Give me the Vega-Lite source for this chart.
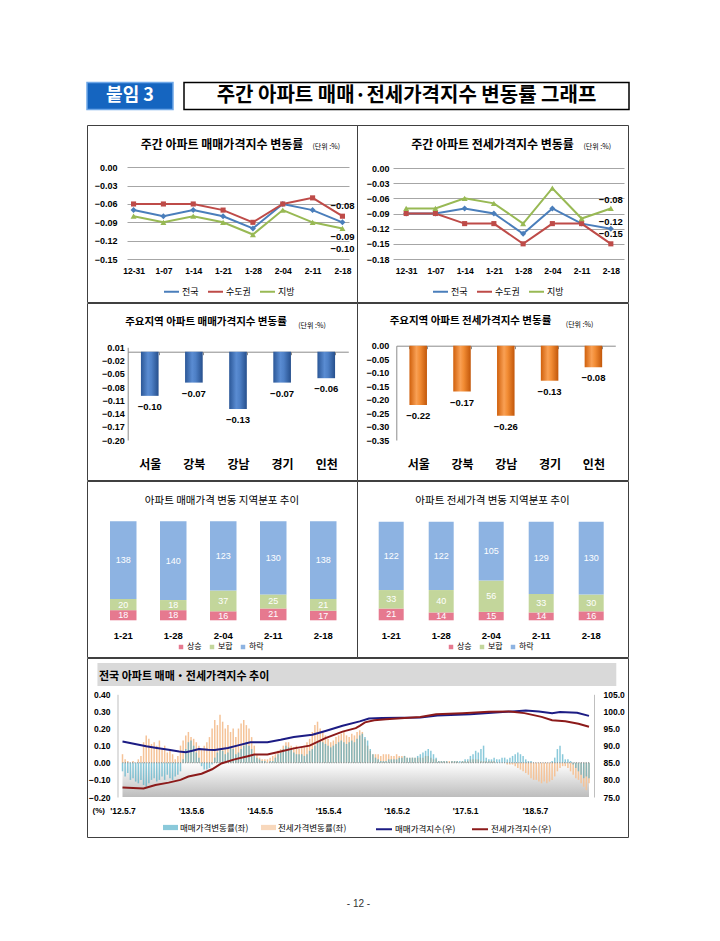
{
"$schema": "https://vega.github.io/schema/vega-lite/v6.json",
"background": "white",
"padding": {"left": 86, "top": 81.5, "right": 0, "bottom": 0},
"spacing": 13.5,
"resolve": {"scale": {"color": "independent", "shape": "independent", "fill": "independent", "stroke": "independent"}},
"datasets": {
"tl": [
{"d":"12-31","r":"전국","v":-0.07},{"d":"1-07","r":"전국","v":-0.08},{"d":"1-14","r":"전국","v":-0.07},{"d":"1-21","r":"전국","v":-0.08},{"d":"1-28","r":"전국","v":-0.10},{"d":"2-04","r":"전국","v":-0.06},{"d":"2-11","r":"전국","v":-0.07},{"d":"2-18","r":"전국","v":-0.09},
{"d":"12-31","r":"수도권","v":-0.06},{"d":"1-07","r":"수도권","v":-0.06},{"d":"1-14","r":"수도권","v":-0.06},{"d":"1-21","r":"수도권","v":-0.07},{"d":"1-28","r":"수도권","v":-0.09},{"d":"2-04","r":"수도권","v":-0.06},{"d":"2-11","r":"수도권","v":-0.05},{"d":"2-18","r":"수도권","v":-0.08},
{"d":"12-31","r":"지방","v":-0.08},{"d":"1-07","r":"지방","v":-0.09},{"d":"1-14","r":"지방","v":-0.08},{"d":"1-21","r":"지방","v":-0.09},{"d":"1-28","r":"지방","v":-0.11},{"d":"2-04","r":"지방","v":-0.07},{"d":"2-11","r":"지방","v":-0.09},{"d":"2-18","r":"지방","v":-0.10}
],
"tr": [
{"d":"12-31","r":"전국","v":-0.09},{"d":"1-07","r":"전국","v":-0.09},{"d":"1-14","r":"전국","v":-0.08},{"d":"1-21","r":"전국","v":-0.09},{"d":"1-28","r":"전국","v":-0.13},{"d":"2-04","r":"전국","v":-0.08},{"d":"2-11","r":"전국","v":-0.11},{"d":"2-18","r":"전국","v":-0.12},
{"d":"12-31","r":"수도권","v":-0.09},{"d":"1-07","r":"수도권","v":-0.09},{"d":"1-14","r":"수도권","v":-0.11},{"d":"1-21","r":"수도권","v":-0.11},{"d":"1-28","r":"수도권","v":-0.15},{"d":"2-04","r":"수도권","v":-0.11},{"d":"2-11","r":"수도권","v":-0.11},{"d":"2-18","r":"수도권","v":-0.15},
{"d":"12-31","r":"지방","v":-0.08},{"d":"1-07","r":"지방","v":-0.08},{"d":"1-14","r":"지방","v":-0.06},{"d":"1-21","r":"지방","v":-0.07},{"d":"1-28","r":"지방","v":-0.11},{"d":"2-04","r":"지방","v":-0.04},{"d":"2-11","r":"지방","v":-0.10},{"d":"2-18","r":"지방","v":-0.08}
],
"ml": [{"g":"서울","v":-0.10},{"g":"강북","v":-0.07},{"g":"강남","v":-0.13},{"g":"경기","v":-0.07},{"g":"인천","v":-0.06}],
"mr": [{"g":"서울","v":-0.22},{"g":"강북","v":-0.17},{"g":"강남","v":-0.26},{"g":"경기","v":-0.13},{"g":"인천","v":-0.08}],
"sl": [
{"w":"1-21","t":"상승","k":1,"n":18},{"w":"1-21","t":"보합","k":2,"n":20},{"w":"1-21","t":"하락","k":3,"n":138},
{"w":"1-28","t":"상승","k":1,"n":18},{"w":"1-28","t":"보합","k":2,"n":18},{"w":"1-28","t":"하락","k":3,"n":140},
{"w":"2-04","t":"상승","k":1,"n":16},{"w":"2-04","t":"보합","k":2,"n":37},{"w":"2-04","t":"하락","k":3,"n":123},
{"w":"2-11","t":"상승","k":1,"n":21},{"w":"2-11","t":"보합","k":2,"n":25},{"w":"2-11","t":"하락","k":3,"n":130},
{"w":"2-18","t":"상승","k":1,"n":17},{"w":"2-18","t":"보합","k":2,"n":21},{"w":"2-18","t":"하락","k":3,"n":138}
],
"sr": [
{"w":"1-21","t":"상승","k":1,"n":21},{"w":"1-21","t":"보합","k":2,"n":33},{"w":"1-21","t":"하락","k":3,"n":122},
{"w":"1-28","t":"상승","k":1,"n":14},{"w":"1-28","t":"보합","k":2,"n":40},{"w":"1-28","t":"하락","k":3,"n":122},
{"w":"2-04","t":"상승","k":1,"n":15},{"w":"2-04","t":"보합","k":2,"n":56},{"w":"2-04","t":"하락","k":3,"n":105},
{"w":"2-11","t":"상승","k":1,"n":14},{"w":"2-11","t":"보합","k":2,"n":33},{"w":"2-11","t":"하락","k":3,"n":129},
{"w":"2-18","t":"상승","k":1,"n":16},{"w":"2-18","t":"보합","k":2,"n":30},{"w":"2-18","t":"하락","k":3,"n":130}
],
"wk": [
{"d":"2012-05-07","s":-0.05,"j":0.05},{"d":"2012-05-21","s":-0.08,"j":0.02},{"d":"2012-06-04","s":-0.06,"j":0.01},{"d":"2012-06-18","s":-0.1,"j":0},{"d":"2012-07-02","s":-0.09,"j":0.01},{"d":"2012-07-16","s":-0.11,"j":0},{"d":"2012-07-30","s":-0.12,"j":0.02},{"d":"2012-08-13","s":-0.1,"j":0.04},{"d":"2012-08-27","s":-0.13,"j":0.12},{"d":"2012-09-10","s":-0.14,"j":0.16},{"d":"2012-09-24","s":-0.12,"j":0.14},{"d":"2012-10-08","s":-0.1,"j":0.11},{"d":"2012-10-22","s":-0.09,"j":0.12},{"d":"2012-11-05","s":-0.11,"j":0.1},{"d":"2012-11-19","s":-0.1,"j":0.13},{"d":"2012-12-03","s":-0.08,"j":0.08},{"d":"2012-12-17","s":-0.1,"j":0.1},{"d":"2012-12-31","s":-0.07,"j":0.06},
{"d":"2013-01-14","s":-0.09,"j":0.08},{"d":"2013-01-28","s":-0.1,"j":0.05},{"d":"2013-02-11","s":-0.08,"j":0.02},{"d":"2013-02-25","s":-0.07,"j":0.04},{"d":"2013-03-11","s":-0.05,"j":0.1},{"d":"2013-03-25","s":0.02,"j":0.13},{"d":"2013-04-08","s":0.08,"j":0.16},{"d":"2013-04-22","s":0.12,"j":0.18},{"d":"2013-05-06","s":0.13,"j":0.15},{"d":"2013-05-20","s":0.1,"j":0.14},{"d":"2013-06-03","s":0.06,"j":0.12},{"d":"2013-06-17","s":0.03,"j":0.1},{"d":"2013-07-01","s":-0.02,"j":0.08},{"d":"2013-07-15","s":-0.04,"j":0.1},{"d":"2013-07-29","s":-0.04,"j":0.12},{"d":"2013-08-12","s":-0.03,"j":0.15},{"d":"2013-08-26","s":-0.01,"j":0.2},{"d":"2013-09-09","s":0.03,"j":0.25},{"d":"2013-09-23","s":0.06,"j":0.22},{"d":"2013-10-07","s":0.08,"j":0.28},{"d":"2013-10-21","s":0.07,"j":0.24},{"d":"2013-11-04","s":0.05,"j":0.2},{"d":"2013-11-18","s":0.06,"j":0.22},{"d":"2013-12-02","s":0.09,"j":0.18},{"d":"2013-12-16","s":0.08,"j":0.2},{"d":"2013-12-30","s":0.05,"j":0.15},
{"d":"2014-01-13","s":0.06,"j":0.2},{"d":"2014-01-27","s":0.08,"j":0.23},{"d":"2014-02-10","s":0.1,"j":0.25},{"d":"2014-02-24","s":0.12,"j":0.22},{"d":"2014-03-10","s":0.1,"j":0.2},{"d":"2014-03-24","s":0.08,"j":0.15},{"d":"2014-04-07","s":0.05,"j":0.1},{"d":"2014-04-21","s":0.03,"j":0.05},{"d":"2014-05-05","s":0.02,"j":0.03},{"d":"2014-05-19","s":0.01,"j":0.02},{"d":"2014-06-02","s":0.01,"j":0.02},{"d":"2014-06-16","s":0,"j":0.02},{"d":"2014-06-30","s":0.01,"j":0.03},{"d":"2014-07-14","s":0.01,"j":0.04},{"d":"2014-07-28","s":0.03,"j":0.05},{"d":"2014-08-11","s":0.05,"j":0.07},{"d":"2014-08-25","s":0.06,"j":0.08},{"d":"2014-09-08","s":0.08,"j":0.1},{"d":"2014-09-22","s":0.1,"j":0.12},{"d":"2014-10-06","s":0.09,"j":0.12},{"d":"2014-10-20","s":0.08,"j":0.1},{"d":"2014-11-03","s":0.06,"j":0.09},{"d":"2014-11-17","s":0.05,"j":0.1},{"d":"2014-12-01","s":0.05,"j":0.08},{"d":"2014-12-15","s":0.05,"j":0.09},{"d":"2014-12-29","s":0.04,"j":0.1},
{"d":"2015-01-12","s":0.05,"j":0.12},{"d":"2015-01-26","s":0.07,"j":0.14},{"d":"2015-02-09","s":0.08,"j":0.18},{"d":"2015-02-23","s":0.1,"j":0.22},{"d":"2015-03-09","s":0.12,"j":0.24},{"d":"2015-03-23","s":0.13,"j":0.2},{"d":"2015-04-06","s":0.12,"j":0.18},{"d":"2015-04-20","s":0.11,"j":0.16},{"d":"2015-05-04","s":0.1,"j":0.14},{"d":"2015-05-18","s":0.09,"j":0.12},{"d":"2015-06-01","s":0.1,"j":0.13},{"d":"2015-06-15","s":0.11,"j":0.15},{"d":"2015-06-29","s":0.12,"j":0.16},{"d":"2015-07-13","s":0.13,"j":0.17},{"d":"2015-07-27","s":0.12,"j":0.18},{"d":"2015-08-10","s":0.11,"j":0.16},{"d":"2015-08-24","s":0.12,"j":0.15},{"d":"2015-09-07","s":0.13,"j":0.17},{"d":"2015-09-21","s":0.12,"j":0.16},{"d":"2015-10-05","s":0.14,"j":0.18},{"d":"2015-10-19","s":0.16,"j":0.19},{"d":"2015-11-02","s":0.17,"j":0.18},{"d":"2015-11-16","s":0.15,"j":0.14},{"d":"2015-11-30","s":0.13,"j":0.1},{"d":"2015-12-14","s":0.08,"j":0.07},{"d":"2015-12-28","s":0.05,"j":0.05},
{"d":"2016-01-11","s":0.03,"j":0.05},{"d":"2016-01-25","s":0.02,"j":0.05},{"d":"2016-02-08","s":0.01,"j":0.04},{"d":"2016-02-22","s":0.01,"j":0.05},{"d":"2016-03-07","s":0.01,"j":0.05},{"d":"2016-03-21","s":0.02,"j":0.05},{"d":"2016-04-04","s":0.02,"j":0.04},{"d":"2016-04-18","s":0.02,"j":0.04},{"d":"2016-05-02","s":0.02,"j":0.05},{"d":"2016-05-16","s":0.03,"j":0.04},{"d":"2016-05-30","s":0.03,"j":0.04},{"d":"2016-06-13","s":0.04,"j":0.04},{"d":"2016-06-27","s":0.03,"j":0.03},{"d":"2016-07-11","s":0.03,"j":0.03},{"d":"2016-07-25","s":0.03,"j":0.03},{"d":"2016-08-08","s":0.03,"j":0.03},{"d":"2016-08-22","s":0.04,"j":0.03},{"d":"2016-09-05","s":0.05,"j":0.03},{"d":"2016-09-19","s":0.06,"j":0.03},{"d":"2016-10-03","s":0.07,"j":0.04},{"d":"2016-10-17","s":0.08,"j":0.04},{"d":"2016-10-31","s":0.07,"j":0.03},{"d":"2016-11-14","s":0.05,"j":0.02},{"d":"2016-11-28","s":0.03,"j":0.02},{"d":"2016-12-12","s":0.01,"j":0.01},{"d":"2016-12-26","s":0.01,"j":0.01},
{"d":"2017-01-09","s":0.01,"j":0.01},{"d":"2017-01-23","s":0.01,"j":0.01},{"d":"2017-02-06","s":0,"j":0.01},{"d":"2017-02-20","s":0.01,"j":0.01},{"d":"2017-03-06","s":0.01,"j":0.01},{"d":"2017-03-20","s":0.01,"j":0.01},{"d":"2017-04-03","s":0.01,"j":0},{"d":"2017-04-17","s":0.01,"j":0.01},{"d":"2017-05-01","s":0.02,"j":0.01},{"d":"2017-05-15","s":0.02,"j":0.01},{"d":"2017-05-29","s":0.04,"j":0.02},{"d":"2017-06-12","s":0.05,"j":0.02},{"d":"2017-06-26","s":0.07,"j":0.02},{"d":"2017-07-10","s":0.06,"j":0.02},{"d":"2017-07-24","s":0.08,"j":0.01},{"d":"2017-08-07","s":0.1,"j":0.01},{"d":"2017-08-21","s":0.03,"j":0.01},{"d":"2017-09-04","s":0.02,"j":0.01},{"d":"2017-09-18","s":0.02,"j":0.01},{"d":"2017-10-02","s":0.03,"j":0.01},{"d":"2017-10-16","s":0.02,"j":0},{"d":"2017-10-30","s":0.02,"j":0},{"d":"2017-11-13","s":0.03,"j":0},{"d":"2017-11-27","s":0.03,"j":0},{"d":"2017-12-11","s":0.02,"j":-0.01},{"d":"2017-12-25","s":0.03,"j":-0.01},
{"d":"2018-01-08","s":0.04,"j":-0.01},{"d":"2018-01-22","s":0.05,"j":-0.02},{"d":"2018-02-05","s":0.06,"j":-0.03},{"d":"2018-02-19","s":0.05,"j":-0.04},{"d":"2018-03-05","s":0.04,"j":-0.05},{"d":"2018-03-19","s":0.02,"j":-0.06},{"d":"2018-04-02","s":0.01,"j":-0.07},{"d":"2018-04-16","s":0.01,"j":-0.09},{"d":"2018-04-30","s":0,"j":-0.1},{"d":"2018-05-14","s":0,"j":-0.1},{"d":"2018-05-28","s":0,"j":-0.11},{"d":"2018-06-11","s":0,"j":-0.12},{"d":"2018-06-25","s":0,"j":-0.11},{"d":"2018-07-09","s":0,"j":-0.12},{"d":"2018-07-23","s":0,"j":-0.11},{"d":"2018-08-06","s":0.01,"j":-0.1},{"d":"2018-08-20","s":0.03,"j":-0.08},{"d":"2018-09-03","s":0.08,"j":-0.05},{"d":"2018-09-17","s":0.1,"j":-0.03},{"d":"2018-10-01","s":0.05,"j":-0.02},{"d":"2018-10-15","s":0.02,"j":-0.02},{"d":"2018-10-29","s":0.02,"j":-0.03},{"d":"2018-11-12","s":0.01,"j":-0.05},{"d":"2018-11-26","s":-0.01,"j":-0.07},{"d":"2018-12-10","s":-0.03,"j":-0.09},{"d":"2018-12-24","s":-0.05,"j":-0.1},
{"d":"2019-01-07","s":-0.07,"j":-0.12},{"d":"2019-01-21","s":-0.09,"j":-0.14},{"d":"2019-02-04","s":-0.08,"j":-0.16},{"d":"2019-02-18","s":-0.09,"j":-0.12}
],
"sidx": [
{"d":"2012-05-07","a":91.2},{"d":"2012-09-10","a":89.8},{"d":"2012-11-05","a":89.3},{"d":"2013-01-07","a":88.8},{"d":"2013-03-04","a":88.3},{"d":"2013-04-08","a":88.1},{"d":"2013-05-13","a":88.5},{"d":"2013-06-17","a":89.0},{"d":"2013-08-05","a":88.8},{"d":"2013-09-09","a":88.7},{"d":"2013-11-18","a":89.3},{"d":"2014-01-06","a":90.0},{"d":"2014-03-17","a":91.0},{"d":"2014-06-16","a":91.0},{"d":"2014-08-25","a":91.7},{"d":"2014-11-03","a":92.5},{"d":"2015-02-09","a":93.2},{"d":"2015-04-20","a":94.3},{"d":"2015-07-20","a":95.8},{"d":"2015-10-19","a":97.1},{"d":"2015-12-07","a":97.9},{"d":"2016-02-15","a":98.1},{"d":"2016-09-05","a":98.2},{"d":"2016-12-05","a":98.8},{"d":"2017-05-29","a":99.2},{"d":"2017-10-09","a":99.7},{"d":"2018-01-08","a":100.0},{"d":"2018-03-19","a":100.3},{"d":"2018-05-28","a":100.0},{"d":"2018-08-06","a":99.5},{"d":"2018-09-17","a":99.8},{"d":"2018-12-17","a":99.6},{"d":"2019-02-18","a":98.7}
],
"jidx": [
{"d":"2012-05-07","b":77.8},{"d":"2012-08-27","b":77.5},{"d":"2012-10-29","b":78.5},{"d":"2013-01-07","b":79.2},{"d":"2013-03-11","b":80.0},{"d":"2013-04-22","b":81.0},{"d":"2013-07-01","b":81.8},{"d":"2013-08-26","b":83.1},{"d":"2013-10-14","b":84.8},{"d":"2013-12-23","b":86.0},{"d":"2014-03-03","b":86.9},{"d":"2014-04-07","b":87.4},{"d":"2014-06-16","b":87.4},{"d":"2014-08-25","b":88.3},{"d":"2014-11-03","b":89.2},{"d":"2015-01-26","b":90.0},{"d":"2015-04-20","b":92.2},{"d":"2015-07-20","b":94.1},{"d":"2015-09-28","b":95.1},{"d":"2015-10-19","b":95.8},{"d":"2015-11-16","b":96.8},{"d":"2016-01-04","b":97.4},{"d":"2016-03-07","b":97.7},{"d":"2016-06-13","b":98.1},{"d":"2016-09-05","b":98.4},{"d":"2016-11-28","b":99.2},{"d":"2017-04-17","b":99.5},{"d":"2017-09-04","b":99.9},{"d":"2017-12-25","b":100.0},{"d":"2018-03-12","b":99.5},{"d":"2018-06-11","b":98.4},{"d":"2018-08-06","b":97.4},{"d":"2018-10-15","b":97.1},{"d":"2018-12-24","b":96.4},{"d":"2019-02-18","b":95.5}
]
},
"vconcat": [
{
"hconcat": [
{"width": 86, "height": 27, "view": {"fill": "#1565C0", "stroke": "#6FA8E8", "strokeWidth": 1.5},
 "data": {"values": [{"t": "붙임 3"}]},
 "mark": {"type": "text", "color": "#FFFFFF", "fontSize": 18, "fontWeight": "bold", "font": "Noto Sans CJK KR"},
 "encoding": {"text": {"field": "t", "type": "nominal"}}},
{"width": 445, "height": 27, "view": {"fill": "#FFFFFF", "stroke": "#000000", "strokeWidth": 1.5},
 "data": {"values": [{"t": "주간 아파트 매매·전세가격지수 변동률 그래프"}]},
 "mark": {"type": "text", "color": "#000000", "fontSize": 20, "fontWeight": "bold", "font": "Noto Sans CJK KR"},
 "encoding": {"text": {"field": "t", "type": "nominal"}}}
],
"spacing": 11, "bounds": "flush"
},
{
"vconcat": [
{
"hconcat": [
{
"width": 270, "height": 177,
"title": {"text": "주간 아파트 매매가격지수 변동률", "fontSize": 12, "fontWeight": "bold", "anchor": "middle", "frame": "group", "offset": -27},
"data": {"name": "tl"},
"encoding": {
 "x": {"field": "d", "type": "ordinal", "scale": {"type": "point", "domain": ["12-31","1-07","1-14","1-21","1-28","2-04","2-11","2-18"], "range": [40, 262], "padding": 0.22}, "axis": {"orient": "bottom", "offset": -38, "labelPadding": 2, "labelAngle": 0, "labelFontSize": 8.5, "title": null}},
 "y": {"field": "v", "type": "quantitative", "scale": {"domain": [-0.15, 0], "range": [134, 42.3], "nice": false, "zero": false}, "axis": {"values": [0, -0.03, -0.06, -0.09, -0.12, -0.15], "format": ".2f", "offset": -33, "labelPadding": 3, "labelFontSize": 9, "grid": true, "gridColor": "#A6A6A6", "title": "(단위 :%)", "titleAngle": 0, "titleX": 192, "titleY": 21, "titleAlign": "left", "titleBaseline": "middle", "titleFontSize": 7, "titleFontWeight": "normal"}},
 "color": {"field": "r", "type": "nominal", "scale": {"domain": ["전국","수도권","지방"], "range": ["#4A7EBB","#BE4B48","#98B954"]}, "legend": {"orient": "none", "legendX": 76, "legendY": 158, "direction": "horizontal", "title": null, "labelFontSize": 9, "symbolType": "stroke", "symbolSize": 225, "symbolStrokeWidth": 2, "columnPadding": 5, "labelOffset": 2}}
},
"layer": [
 {"mark": {"type": "line", "strokeWidth": 2}},
 {"transform": [{"filter": "datum.r == '전국'"}], "mark": {"type": "point", "shape": "diamond", "filled": true, "opacity": 1, "size": 36}},
 {"transform": [{"filter": "datum.r == '수도권'"}], "mark": {"type": "point", "shape": "square", "filled": true, "opacity": 1, "size": 26}},
 {"transform": [{"filter": "datum.r == '지방'"}], "mark": {"type": "point", "shape": "triangle-up", "filled": true, "opacity": 1, "size": 36}},
 {"transform": [{"filter": "datum.d == '2-18' && datum.r == '수도권'"}], "mark": {"type": "text", "dy": -10, "font": "Liberation Sans", "fontWeight": "bold", "fontSize": 9.5}, "encoding": {"text": {"field": "v", "type": "quantitative", "format": ".2f"}, "color": {"value": "#000000"}}},
 {"transform": [{"filter": "datum.d == '2-18' && datum.r == '전국'"}], "mark": {"type": "text", "dy": 15, "font": "Liberation Sans", "fontWeight": "bold", "fontSize": 9.5}, "encoding": {"text": {"field": "v", "type": "quantitative", "format": ".2f"}, "color": {"value": "#000000"}}},
 {"transform": [{"filter": "datum.d == '2-18' && datum.r == '지방'"}], "mark": {"type": "text", "dy": 20.6, "font": "Liberation Sans", "fontWeight": "bold", "fontSize": 9.5}, "encoding": {"text": {"field": "v", "type": "quantitative", "format": ".2f"}, "color": {"value": "#000000"}}}
]
},
{
"width": 271, "height": 177,
"title": {"text": "주간 아파트 전세가격지수 변동률", "fontSize": 12, "fontWeight": "bold", "anchor": "middle", "frame": "group", "offset": -27},
"data": {"name": "tr"},
"encoding": {
 "x": {"field": "d", "type": "ordinal", "scale": {"type": "point", "domain": ["12-31","1-07","1-14","1-21","1-28","2-04","2-11","2-18"], "range": [36, 267], "padding": 0.45}, "axis": {"orient": "bottom", "offset": -38, "labelPadding": 2, "labelAngle": 0, "labelFontSize": 8.5, "title": null}},
 "y": {"field": "v", "type": "quantitative", "scale": {"domain": [-0.18, 0], "range": [134, 43], "nice": false, "zero": false}, "axis": {"values": [0, -0.03, -0.06, -0.09, -0.12, -0.15, -0.18], "format": ".2f", "offset": -35, "labelPadding": 3, "labelFontSize": 9, "grid": true, "gridColor": "#A6A6A6", "title": "(단위 :%)", "titleAngle": 0, "titleX": 191, "titleY": 21, "titleAlign": "left", "titleBaseline": "middle", "titleFontSize": 7, "titleFontWeight": "normal"}},
 "color": {"field": "r", "type": "nominal", "scale": {"domain": ["전국","수도권","지방"], "range": ["#4A7EBB","#BE4B48","#98B954"]}, "legend": {"orient": "none", "legendX": 75, "legendY": 158, "direction": "horizontal", "title": null, "labelFontSize": 9, "symbolType": "stroke", "symbolSize": 225, "symbolStrokeWidth": 2, "columnPadding": 5, "labelOffset": 2}}
},
"layer": [
 {"mark": {"type": "line", "strokeWidth": 2}},
 {"transform": [{"filter": "datum.r == '전국'"}], "mark": {"type": "point", "shape": "diamond", "filled": true, "opacity": 1, "size": 36}},
 {"transform": [{"filter": "datum.r == '수도권'"}], "mark": {"type": "point", "shape": "square", "filled": true, "opacity": 1, "size": 26}},
 {"transform": [{"filter": "datum.r == '지방'"}], "mark": {"type": "point", "shape": "triangle-up", "filled": true, "opacity": 1, "size": 36}},
 {"transform": [{"filter": "datum.d == '2-18' && datum.r == '지방'"}], "mark": {"type": "text", "dy": -8, "font": "Liberation Sans", "fontWeight": "bold", "fontSize": 9.5}, "encoding": {"text": {"field": "v", "type": "quantitative", "format": ".2f"}, "color": {"value": "#000000"}}},
 {"transform": [{"filter": "datum.d == '2-18' && datum.r == '전국'"}], "mark": {"type": "text", "dy": -7, "font": "Liberation Sans", "fontWeight": "bold", "fontSize": 9.5}, "encoding": {"text": {"field": "v", "type": "quantitative", "format": ".2f"}, "color": {"value": "#000000"}}},
 {"transform": [{"filter": "datum.d == '2-18' && datum.r == '수도권'"}], "mark": {"type": "text", "dy": -9.5, "font": "Liberation Sans", "fontWeight": "bold", "fontSize": 9.5}, "encoding": {"text": {"field": "v", "type": "quantitative", "format": ".2f"}, "color": {"value": "#000000"}}}
]
}
],
"spacing": 0, "bounds": "flush",
"resolve": {"scale": {"color": "independent", "shape": "independent", "fill": "independent", "stroke": "independent"}}
},
{
"hconcat": [
{
"width": 270, "height": 177,
"title": {"text": "주요지역 아파트 매매가격지수 변동률", "fontSize": 10.5, "fontWeight": "bold", "anchor": "middle", "frame": "group", "offset": -24, "dx": -16},
"data": {"name": "ml"},
"encoding": {
 "x": {"field": "g", "type": "nominal", "scale": {"type": "band", "domain": ["서울","강북","강남","경기","인천"], "range": [40.7, 261.3], "paddingInner": 0.6, "paddingOuter": 0.3}, "axis": {"orient": "bottom", "offset": -128.3, "domain": true, "domainColor": "#8C8C8C", "ticks": true, "tickBand": "extent", "tickSize": 3, "tickColor": "#8C8C8C", "labelPadding": 105, "labelFont": "Noto Sans CJK KR", "labelFontSize": 12, "labelAngle": 0, "title": null}},
 "y": {"field": "v", "type": "quantitative", "scale": {"domain": [-0.2, 0.01], "range": [137, 44.3], "nice": false, "zero": false}, "axis": {"values": [0.01, -0.02, -0.05, -0.08, -0.11, -0.14, -0.17, -0.2], "format": ".2f", "offset": -40.7, "labelPadding": 3.4, "labelFontSize": 9, "domain": true, "domainColor": "#8C8C8C", "title": "(단위 :%)", "titleAngle": 0, "titleX": 170, "titleY": 22, "titleAlign": "left", "titleBaseline": "middle", "titleFontSize": 7, "titleFontWeight": "normal"}}
},
"layer": [
 {"mark": {"type": "bar", "fill": {"gradient": "linear", "x1": 0, "y1": 0, "x2": 1, "y2": 0, "stops": [{"offset": 0, "color": "#2B5797"}, {"offset": 0.4, "color": "#5A8CD2"}, {"offset": 0.6, "color": "#4E80C6"}, {"offset": 1, "color": "#264F8C"}]}}, "encoding": {"y2": {"datum": 0}}},
 {"mark": {"type": "text", "dy": 11, "font": "Liberation Sans", "fontWeight": "bold", "fontSize": 9.5, "baseline": "middle"}, "encoding": {"text": {"field": "v", "type": "quantitative", "format": ".2f"}}}
]
},
{
"width": 271, "height": 177,
"title": {"text": "주요지역 아파트 전세가격지수 변동률", "fontSize": 10.5, "fontWeight": "bold", "anchor": "middle", "frame": "group", "offset": -23, "dx": -22},
"data": {"name": "mr"},
"encoding": {
 "x": {"field": "g", "type": "nominal", "scale": {"type": "band", "domain": ["서울","강북","강남","경기","인천"], "range": [39.3, 258.3], "paddingInner": 0.6, "paddingOuter": 0.3}, "axis": {"orient": "bottom", "offset": -134.3, "domain": true, "domainColor": "#8C8C8C", "ticks": true, "tickBand": "extent", "tickSize": 3, "tickColor": "#8C8C8C", "labelPadding": 111, "labelFont": "Noto Sans CJK KR", "labelFontSize": 12, "labelAngle": 0, "title": null}},
 "y": {"field": "v", "type": "quantitative", "scale": {"domain": [-0.35, 0], "range": [137, 42.7], "nice": false, "zero": false}, "axis": {"values": [0, -0.05, -0.1, -0.15, -0.2, -0.25, -0.3, -0.35], "format": ".2f", "offset": -39.3, "labelPadding": 7.6, "labelFontSize": 9, "domain": true, "domainColor": "#8C8C8C", "title": "(단위 :%)", "titleAngle": 0, "titleX": 169, "titleY": 21, "titleAlign": "left", "titleBaseline": "middle", "titleFontSize": 7, "titleFontWeight": "normal"}}
},
"layer": [
 {"mark": {"type": "bar", "fill": {"gradient": "linear", "x1": 0, "y1": 0, "x2": 1, "y2": 0, "stops": [{"offset": 0, "color": "#D0600C"}, {"offset": 0.4, "color": "#F9A054"}, {"offset": 0.6, "color": "#F28C34"}, {"offset": 1, "color": "#C2570A"}]}}, "encoding": {"y2": {"datum": 0}}},
 {"mark": {"type": "text", "dy": 11, "font": "Liberation Sans", "fontWeight": "bold", "fontSize": 9.5, "baseline": "middle"}, "encoding": {"text": {"field": "v", "type": "quantitative", "format": ".2f"}}}
]
}
],
"spacing": 0, "bounds": "flush",
"resolve": {"scale": {"color": "independent", "shape": "independent", "fill": "independent", "stroke": "independent"}}
},
{
"hconcat": [
{
"width": 270, "height": 176,
"title": {"text": "아파트 매매가격 변동 지역분포 추이", "fontSize": 10.5, "fontWeight": "normal", "anchor": "middle", "frame": "group", "offset": -25},
"data": {"name": "sl"},
"encoding": {
 "x": {"field": "w", "type": "ordinal", "scale": {"type": "band", "domain": ["1-21","1-28","2-04","2-11","2-18"], "range": [11.25, 261.25], "paddingInner": 0.47, "paddingOuter": 0.235}, "axis": {"orient": "bottom", "offset": -28.5, "labelPadding": 2, "labelAngle": 0, "labelFontSize": 9.5, "title": null}}
},
"layer": [
 {"mark": {"type": "bar"}, "encoding": {
   "y": {"field": "n", "type": "quantitative", "stack": "zero", "scale": {"domain": [0, 176], "range": [139.3, 40.3], "nice": false, "zero": false}, "axis": null},
   "order": {"field": "k", "type": "quantitative"},
   "color": {"field": "t", "type": "nominal", "scale": {"domain": ["상승","보합","하락"], "range": ["#E6798F","#C3D69B","#8DB3E2"]}, "legend": {"orient": "none", "legendX": 90, "legendY": 162, "direction": "horizontal", "title": null, "symbolType": "square", "symbolSize": 20, "labelFontSize": 8, "columnPadding": 6, "labelOffset": 2, "symbolStrokeWidth": 0}}}},
 {"transform": [
   {"stack": "n", "groupby": ["w"], "sort": [{"field": "k", "order": "ascending"}], "as": ["n0", "n1"]},
   {"fold": ["n0", "n1"], "as": ["edge", "pos"]},
   {"aggregate": [{"op": "mean", "field": "pos", "as": "mid"}, {"op": "max", "field": "n", "as": "n"}], "groupby": ["w", "t"]}
  ],
  "mark": {"type": "text", "color": "#FFFFFF", "fontSize": 9, "font": "Liberation Sans", "baseline": "middle"},
  "encoding": {
   "y": {"field": "mid", "type": "quantitative", "scale": {"domain": [0, 176], "range": [139.3, 40.3], "nice": false, "zero": false}, "axis": null},
   "text": {"field": "n", "type": "quantitative"}}}
]
},
{
"width": 271, "height": 176,
"title": {"text": "아파트 전세가격 변동 지역분포 추이", "fontSize": 10.5, "fontWeight": "normal", "anchor": "middle", "frame": "group", "offset": -25},
"data": {"name": "sr"},
"encoding": {
 "x": {"field": "w", "type": "ordinal", "scale": {"type": "band", "domain": ["1-21","1-28","2-04","2-11","2-18"], "range": [9.2, 259.2], "paddingInner": 0.5, "paddingOuter": 0.25}, "axis": {"orient": "bottom", "offset": -28.5, "labelPadding": 2, "labelAngle": 0, "labelFontSize": 9.5, "title": null}}
},
"layer": [
 {"mark": {"type": "bar"}, "encoding": {
   "y": {"field": "n", "type": "quantitative", "stack": "zero", "scale": {"domain": [0, 176], "range": [139.3, 40.7], "nice": false, "zero": false}, "axis": null},
   "order": {"field": "k", "type": "quantitative"},
   "color": {"field": "t", "type": "nominal", "scale": {"domain": ["상승","보합","하락"], "range": ["#E6798F","#C3D69B","#8DB3E2"]}, "legend": {"orient": "none", "legendX": 90, "legendY": 162, "direction": "horizontal", "title": null, "symbolType": "square", "symbolSize": 20, "labelFontSize": 8, "columnPadding": 6, "labelOffset": 2, "symbolStrokeWidth": 0}}}},
 {"transform": [
   {"stack": "n", "groupby": ["w"], "sort": [{"field": "k", "order": "ascending"}], "as": ["n0", "n1"]},
   {"fold": ["n0", "n1"], "as": ["edge", "pos"]},
   {"aggregate": [{"op": "mean", "field": "pos", "as": "mid"}, {"op": "max", "field": "n", "as": "n"}], "groupby": ["w", "t"]}
  ],
  "mark": {"type": "text", "color": "#FFFFFF", "fontSize": 9, "font": "Liberation Sans", "baseline": "middle"},
  "encoding": {
   "y": {"field": "mid", "type": "quantitative", "scale": {"domain": [0, 176], "range": [139.3, 40.7], "nice": false, "zero": false}, "axis": null},
   "text": {"field": "n", "type": "quantitative"}}}
]
}
],
"spacing": 0, "bounds": "flush",
"resolve": {"scale": {"color": "independent", "shape": "independent", "fill": "independent", "stroke": "independent"}}
},
{
"width": 541, "height": 179,
"title": {"text": "전국 아파트 매매・전세가격지수 추이", "fontSize": 11, "fontWeight": "bold", "anchor": "start", "frame": "group", "dx": 12, "offset": -23.5, "zindex": 2},
"layer": [
 {
 "layer": [
  {"data": {"values": [{}]}, "mark": {"type": "rect", "fill": "#D9D9D9"},
   "encoding": {
    "x": {"datum": {"year": 2011, "month": 12, "date": 26, "utc": true}, "type": "temporal", "scale": {"type": "utc", "domain": [{"year": 2012, "month": 5, "date": 7, "utc": true}, {"year": 2019, "month": 2, "date": 18, "utc": true}], "range": [30.5, 507]}},
    "x2": {"datum": {"year": 2019, "month": 7, "date": 13, "utc": true}},
    "y": {"datum": 0.583, "type": "quantitative", "scale": {"domain": [-0.2, 0.4], "range": [139, 36.3], "nice": false, "zero": false},
     "axis": {"orient": "left", "values": [0.4, 0.3, 0.2, 0.1, 0, -0.1, -0.2], "format": ".2f", "offset": -30.5, "labelPadding": 7.5, "labelFontSize": 8.5, "labelOverlap": false, "labelSeparation": 0, "domain": true, "domainColor": "#BFBFBF", "ticks": false, "grid": false, "title": "(%)", "titleAngle": 0, "titleX": -25.5, "titleY": 152, "titleAlign": "left", "titleBaseline": "middle", "titleFontSize": 8, "titleFont": "Liberation Sans", "titleFontWeight": "bold"}},
    "y2": {"datum": 0.448}}},
  {"data": {"values": [{}]}, "mark": {"type": "rect", "fill": {"gradient": "linear", "x1": 0, "y1": 0, "x2": 0, "y2": 1, "stops": [{"offset": 0, "color": "#FFFFFF"}, {"offset": 1, "color": "#BDBDBD"}]}},
   "encoding": {
    "x": {"datum": {"year": 2012, "month": 5, "date": 7, "utc": true}, "type": "temporal", "scale": {"type": "utc", "domain": [{"year": 2012, "month": 5, "date": 7, "utc": true}, {"year": 2019, "month": 2, "date": 18, "utc": true}], "range": [30.5, 507]}},
    "x2": {"datum": {"year": 2019, "month": 2, "date": 18, "utc": true}},
    "y": {"datum": 0, "type": "quantitative", "scale": {"domain": [-0.2, 0.4], "range": [139, 36.3], "nice": false, "zero": false},
     "axis": {"orient": "left", "values": [0.4, 0.3, 0.2, 0.1, 0, -0.1, -0.2], "format": ".2f", "offset": -30.5, "labelPadding": 7.5, "labelFontSize": 8.5, "labelOverlap": false, "labelSeparation": 0, "domain": true, "domainColor": "#BFBFBF", "ticks": false, "grid": false, "title": "(%)", "titleAngle": 0, "titleX": -25.5, "titleY": 152, "titleAlign": "left", "titleBaseline": "middle", "titleFontSize": 8, "titleFont": "Liberation Sans", "titleFontWeight": "bold"}},
    "y2": {"datum": -0.2}}},
  {"data": {"name": "wk"}, "mark": {"type": "bar", "width": 1.5},
   "encoding": {
    "x": {"field": "d", "type": "temporal", "scale": {"type": "utc", "domain": [{"year": 2012, "month": 5, "date": 7, "utc": true}, {"year": 2019, "month": 2, "date": 18, "utc": true}], "range": [30.5, 507]},
     "axis": {"orient": "bottom", "values": [{"year": 2012, "month": 5, "date": 7, "utc": true}, {"year": 2013, "month": 5, "date": 6, "utc": true}, {"year": 2014, "month": 5, "date": 5, "utc": true}, {"year": 2015, "month": 5, "date": 4, "utc": true}, {"year": 2016, "month": 5, "date": 2, "utc": true}, {"year": 2017, "month": 5, "date": 1, "utc": true}, {"year": 2018, "month": 5, "date": 7, "utc": true}], "labelExpr": "utcFormat(datum.value, \"'%y.%-m.%-d\")", "offset": -33, "labelPadding": 2, "labelFontSize": 8.5, "labelFlush": false, "labelOverlap": false, "labelAngle": 0, "title": null, "grid": false, "domain": false, "ticks": false}},
    "y": {"field": "j", "type": "quantitative", "scale": {"domain": [-0.2, 0.4], "range": [139, 36.3], "nice": false, "zero": false},
     "axis": {"orient": "left", "values": [0.4, 0.3, 0.2, 0.1, 0, -0.1, -0.2], "format": ".2f", "offset": -30.5, "labelPadding": 7.5, "labelFontSize": 8.5, "labelOverlap": false, "labelSeparation": 0, "domain": true, "domainColor": "#BFBFBF", "ticks": false, "grid": false, "title": "(%)", "titleAngle": 0, "titleX": -25.5, "titleY": 152, "titleAlign": "left", "titleBaseline": "middle", "titleFontSize": 8, "titleFont": "Liberation Sans", "titleFontWeight": "bold"}},
    "y2": {"datum": 0},
    "fill": {"datum": "전세가격변동률(좌)", "scale": {"domain": ["매매가격변동률(좌)", "전세가격변동률(좌)"], "range": ["#4BACC6", "#F5C398"]},
     "legend": {"orient": "none", "legendX": 76, "legendY": 162, "direction": "horizontal", "title": null, "symbolType": "M-1,-0.35H1V0.35H-1Z", "symbolSize": 225, "labelFontSize": 8.5, "columnPadding": 12, "labelOffset": 2, "symbolStrokeWidth": 0, "symbolOpacity": 1}}}},
  {"data": {"name": "wk"}, "mark": {"type": "bar", "width": 1.5, "opacity": 0.65},
   "encoding": {
    "x": {"field": "d", "type": "temporal", "scale": {"type": "utc", "domain": [{"year": 2012, "month": 5, "date": 7, "utc": true}, {"year": 2019, "month": 2, "date": 18, "utc": true}], "range": [30.5, 507]}},
    "y": {"field": "s", "type": "quantitative", "scale": {"domain": [-0.2, 0.4], "range": [139, 36.3], "nice": false, "zero": false},
     "axis": {"orient": "left", "values": [0.4, 0.3, 0.2, 0.1, 0, -0.1, -0.2], "format": ".2f", "offset": -30.5, "labelPadding": 7.5, "labelFontSize": 8.5, "labelOverlap": false, "labelSeparation": 0, "domain": true, "domainColor": "#BFBFBF", "ticks": false, "grid": false, "title": "(%)", "titleAngle": 0, "titleX": -25.5, "titleY": 152, "titleAlign": "left", "titleBaseline": "middle", "titleFontSize": 8, "titleFont": "Liberation Sans", "titleFontWeight": "bold"}},
    "y2": {"datum": 0},
    "fill": {"datum": "매매가격변동률(좌)"}}},
  {"data": {"values": [{}]}, "mark": {"type": "rule", "color": "#7F7F7F", "strokeDash": [1, 1.4]},
   "encoding": {
    "x": {"datum": {"year": 2012, "month": 5, "date": 7, "utc": true}, "type": "temporal", "scale": {"type": "utc", "domain": [{"year": 2012, "month": 5, "date": 7, "utc": true}, {"year": 2019, "month": 2, "date": 18, "utc": true}], "range": [30.5, 507]}},
    "x2": {"datum": {"year": 2019, "month": 2, "date": 18, "utc": true}},
    "y": {"datum": 0, "type": "quantitative", "scale": {"domain": [-0.2, 0.4], "range": [139, 36.3], "nice": false, "zero": false},
     "axis": {"orient": "left", "values": [0.4, 0.3, 0.2, 0.1, 0, -0.1, -0.2], "format": ".2f", "offset": -30.5, "labelPadding": 7.5, "labelFontSize": 8.5, "labelOverlap": false, "labelSeparation": 0, "domain": true, "domainColor": "#BFBFBF", "ticks": false, "grid": false, "title": "(%)", "titleAngle": 0, "titleX": -25.5, "titleY": 152, "titleAlign": "left", "titleBaseline": "middle", "titleFontSize": 8, "titleFont": "Liberation Sans", "titleFontWeight": "bold"}}}}
 ]
 },
 {
 "layer": [
  {"data": {"name": "sidx"}, "mark": {"type": "line", "strokeWidth": 2},
   "encoding": {
    "x": {"field": "d", "type": "temporal", "scale": {"type": "utc", "domain": [{"year": 2012, "month": 5, "date": 7, "utc": true}, {"year": 2019, "month": 2, "date": 18, "utc": true}], "range": [30.5, 507]}},
    "y": {"field": "a", "type": "quantitative", "scale": {"domain": [75, 105], "range": [139, 36.3], "nice": false, "zero": false},
     "axis": {"orient": "right", "values": [105, 100, 95, 90, 85, 80, 75], "format": ".1f", "offset": -34, "labelPadding": 9, "labelFontSize": 8.5, "labelOverlap": false, "labelSeparation": 0, "domain": true, "domainColor": "#BFBFBF", "ticks": false, "grid": false, "title": null}},
    "stroke": {"datum": "매매가격지수(우)", "scale": {"domain": ["매매가격지수(우)", "전세가격지수(우)"], "range": ["#1C1C84", "#8C1A1A"]},
     "legend": {"orient": "none", "legendX": 288, "legendY": 162, "direction": "horizontal", "title": null, "symbolType": "stroke", "symbolSize": 256, "symbolStrokeWidth": 2, "labelFontSize": 8.5, "columnPadding": 12, "labelOffset": 2}}}},
  {"data": {"name": "jidx"}, "mark": {"type": "line", "strokeWidth": 2},
   "encoding": {
    "x": {"field": "d", "type": "temporal", "scale": {"type": "utc", "domain": [{"year": 2012, "month": 5, "date": 7, "utc": true}, {"year": 2019, "month": 2, "date": 18, "utc": true}], "range": [30.5, 507]}},
    "y": {"field": "b", "type": "quantitative", "scale": {"domain": [75, 105], "range": [139, 36.3], "nice": false, "zero": false},
     "axis": {"orient": "right", "values": [105, 100, 95, 90, 85, 80, 75], "format": ".1f", "offset": -34, "labelPadding": 9, "labelFontSize": 8.5, "labelOverlap": false, "labelSeparation": 0, "domain": true, "domainColor": "#BFBFBF", "ticks": false, "grid": false, "title": null}},
    "stroke": {"datum": "전세가격지수(우)"}}}
 ]
 }
],
"resolve": {"scale": {"y": "independent"}}
}
],
"spacing": -2,
"resolve": {"scale": {"color": "independent", "shape": "independent", "fill": "independent", "stroke": "independent"}}
},
{"width": 543, "height": 100, "view": {"stroke": null},
 "data": {"values": [{"t": "- 12 -"}]},
 "mark": {"type": "text", "color": "#333333", "fontSize": 10, "font": "Liberation Sans", "dy": 2},
 "encoding": {"text": {"field": "t", "type": "nominal"}}}
],
"config": {
 "view": {"stroke": "#404040", "strokeWidth": 1},
 "font": "Noto Sans CJK KR",
 "title": {"font": "Noto Sans CJK KR", "color": "#000000"},
 "axis": {"labelFont": "Liberation Sans", "labelFontWeight": "bold", "labelColor": "#000000", "labelFontSize": 9, "ticks": false, "domain": false, "grid": false, "titleFont": "Noto Sans CJK KR", "titleColor": "#000000", "labelOverlap": false},
 "legend": {"labelFont": "Noto Sans CJK KR", "labelColor": "#000000", "padding": 0, "labelLimit": 200},
 "text": {"font": "Liberation Sans"}
}
}
